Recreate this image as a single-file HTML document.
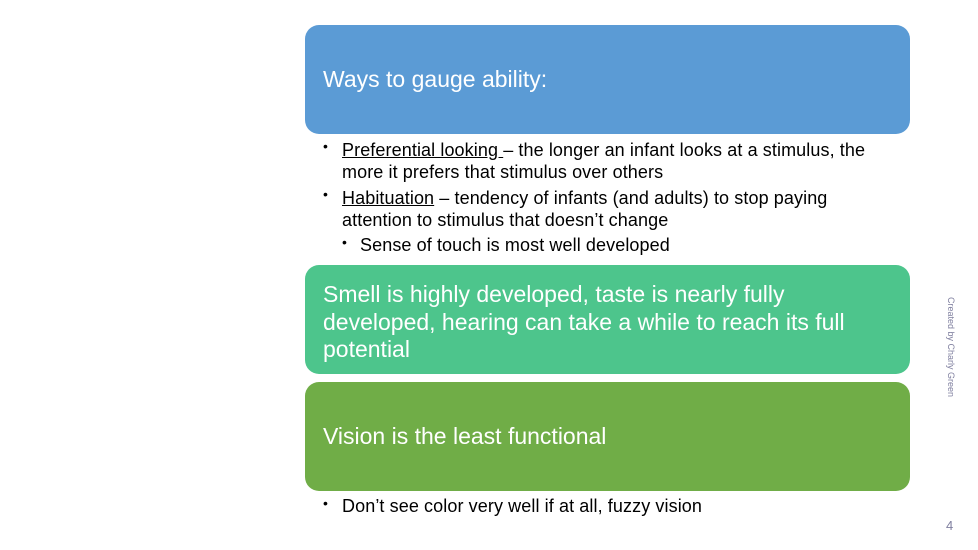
<!DOCTYPE html>
<html><head><meta charset="utf-8"><style>
body{margin:0;width:978px;height:550px;background:#fff;position:relative;overflow:hidden;font-family:"Liberation Sans",sans-serif;}
.box{position:absolute;left:305px;width:605px;height:109px;border-radius:14px;color:#fff;font-size:23px;}
.box div{position:absolute;left:18px;white-space:nowrap;}
.t{position:absolute;font-size:18px;color:#000;white-space:nowrap;letter-spacing:0.1px;}
.b{position:absolute;font-size:14px;}
u{text-decoration:underline;}
</style></head><body>
<div class="box" style="top:25px;background:#5B9BD5"><div style="top:41px">Ways to gauge ability:</div></div>
<div class="b" style="left:323px;top:138px">•</div>
<div class="t" style="left:342px;top:140px"><u>Preferential looking </u>– the longer an infant looks at a stimulus, the</div>
<div class="t" style="left:342px;top:162px">more it prefers that stimulus over others</div>
<div class="b" style="left:323px;top:186px">•</div>
<div class="t" style="left:342px;top:188px"><u>Habituation</u> – tendency of infants (and adults) to stop paying</div>
<div class="t" style="left:342px;top:210px">attention to stimulus that doesn’t change</div>
<div class="b" style="left:342px;top:234px">•</div>
<div class="t" style="left:360px;top:235px">Sense of touch is most well developed</div>
<div class="box" style="top:265px;background:#4DC58C"><div style="top:16px;line-height:27.5px">Smell is highly developed, taste is nearly fully<br>developed, hearing can take a while to reach its full<br>potential</div></div>
<div class="box" style="top:382px;background:#70AD47"><div style="top:41px">Vision is the least functional</div></div>
<div class="b" style="left:323px;top:495px">•</div>
<div class="t" style="left:342px;top:496px">Don’t see color very well if at all, fuzzy vision</div>
<div style="position:absolute;left:946px;top:297px;writing-mode:vertical-rl;font-size:9px;color:#7F7F9F;white-space:nowrap">Created by Charly Green</div>
<div style="position:absolute;left:946px;top:518px;font-size:13px;color:#7F7F9F">4</div>
</body></html>
